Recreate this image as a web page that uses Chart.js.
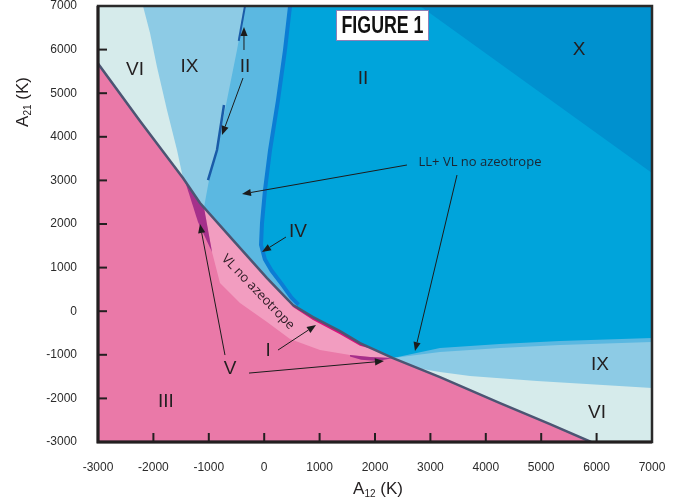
<!DOCTYPE html>
<html><head><meta charset="utf-8">
<script src="https://cdn.jsdelivr.net/npm/chart.js@4.4.0/dist/chart.umd.min.js"></script>
<style>html,body{margin:0;padding:0;background:#fff;overflow:hidden}</style>
</head><body>
<canvas id="c" width="675" height="504"></canvas>
<script>
// ---------- axis ticks ----------
const xTickValues = [-3000,-2000,-1000,0,1000,2000,3000,4000,5000,6000,7000];
const yTickValues = [-3000,-2000,-1000,0,1000,2000,3000,4000,5000,6000,7000];

// ---------- boundary curves (A12, A21 in K) ----------
const mainLine = [[-3000,5680],[-2242,4362],[-1466,3054],[-1159,2481],[-563,1632],[51,760],[420,273],[520,141],[881,-134],[1368,-456],[1729,-731],[2325,-1075],[3173,-1511],[4256,-2107],[5159,-2589],[5900,-3000]];
const ivCurve = [[430,7000],[339,5991],[213,4844],[69,3697],[-22,2779],[-76,2022],[-94,1517],[-22,1173],[105,898],[285,600],[466,279],[592,118]];
const ixLeftEdge = [[-347,7000],[-491,5991],[-672,4844],[-852,3697],[-996,3008],[-1087,2378]];
const viIxEdge = [[-2188,7000],[-2061,6381],[-1935,5601],[-1755,4614],[-1574,3697],[-1466,3054]];
const xRegionEdge = [[2812,7000],[7000,3169]];
const junctionC = [2325,-1075];
const sliverUpper = [[2325,-1075],[3173,-846],[4256,-754],[5339,-685],[7000,-616]];
const ixRightUpper = [[2325,-1075],[3173,-937],[4256,-846],[5339,-777],[7000,-708]];
const ixRightLower = [[2325,-1075],[2632,-1281],[3173,-1396],[3715,-1488],[4924,-1603],[6115,-1694],[7000,-1763]];
const vlLower = [[2325,-1075],[1910,-1052],[1549,-1006],[1007,-891],[466,-639],[51,-249],[-437,187],[-798,646],[-942,1357]];
const purpleWedge = [[-1430,2986],[-1087,2378],[-942,1357],[-1195,2045]];
const purpleTip = [[1549,-1006],[1910,-1052],[2325,-1075],[2050,-1140],[1750,-1115],[1549,-1040]];
const magentaBand = [[420,273],[520,141],[881,-134],[1368,-456],[1729,-731],[2000,-887],[1729,-795],[1368,-530],[881,-200],[520,95]];
const navyUpper = [[-347,7000],[-460,6200]];
const navyLower = [[-726,4729],[-852,3697],[-1014,3008]];

// ---------- annotations ----------
const romanText = ['VI','IX','II','II','X','IV','I','V','III','IX','VI'];
const romanX = [-2332,-1348,-347,1783,5682,610,69,-617,-1773,6061,6007];
const romanY = [5532,5612,5612,5337,5991,1816,-914,-1327,-2084,-1235,-2337];
const arrowStart = [[-365,5991],[-383,5348],[2577,3353],[3480,3123],[393,1701],[249,-891],[-708,-1006],[-274,-1419]];
const arrowTip = [[-365,6518],[-762,4041],[-401,2687],[2722,-914],[-40,1357],[935,-318],[-1159,2000],[2162,-1144]];

const toXY = arr => arr.map(p => ({x:p[0], y:p[1]}));
const rev = arr => arr.slice().reverse();

const junctionIX = [-1087,2378];
const lightPinkPoly = [junctionIX, ...mainLine.filter(p => p[0] > -1087 && p[0] < 2325), ...vlLower];
const ixLeftPoly = [[-3000,7000], ...ixLeftEdge, [-1300,2000], [-3000,3000]];
const viLeftPoly = [[-3000,7000], ...viIxEdge, [-3000,3054]];
const midLeftPoly = [[-3000,7000], ...ivCurve, [-3000,-3000]];
const pinkPoly = [...mainLine, [-3000,-3000]];
const viRightPoly = [junctionC, [7000,-1000], [7000,-3000], [2325,-3000]];
const sliverPoly = [...sliverUpper, [7000,-1000], junctionC];
const ixRightPoly = [...ixRightUpper, ...rev(ixRightLower)];
const xPoly = [xRegionEdge[0], [7000,7000], xRegionEdge[1]];
const fullPoly = [[-3000,-3000],[7000,-3000],[7000,7000],[-3000,7000]];

const COL = {
  bright:'#00A4DB', x:'#0091CF', mid:'#5BB8E1', ix:'#8DCBE5', vi:'#D6EBEB',
  pink:'#EA79A8', light:'#F29DC0', purple:'#A5308B', magenta:'#D8117B',
  navy:'#1A5BA8', ivStripe:'#0B7DD4', main:'#4C5573'
};

function poly(pts, color){
  return {data: toXY(pts), showLine:true, fill:'shape', backgroundColor:color, borderColor:color, borderWidth:0, pointRadius:0, tension:0};
}
function line(pts, color, w){
  return {data: toXY(pts), showLine:true, fill:false, borderColor:color, borderWidth:w, pointRadius:0, tension:0, borderCapStyle:'butt'};
}

const layers = [
  poly(fullPoly, COL.bright),
  poly(xPoly, COL.x),
  poly(viRightPoly, COL.vi),
  poly(sliverPoly, COL.mid),
  poly(ixRightPoly, COL.ix),
  line(ivCurve, COL.ivStripe, 8),
  poly(midLeftPoly, COL.mid),
  poly(ixLeftPoly, COL.ix),
  poly(viLeftPoly, COL.vi),
  line(navyUpper, COL.navy, 2),
  line(navyLower, COL.navy, 2.5),
  poly(pinkPoly, COL.pink),
  poly(lightPinkPoly, COL.light),
  poly(purpleWedge, COL.purple),
  poly(purpleTip, COL.purple),
  poly(magentaBand, COL.magenta),
  line(mainLine, COL.main, 2.5)
];
const datasets = layers.map((d,i) => Object.assign(d, {order: layers.length - i}));

const overlay = {
  id:'overlay',
  afterDatasetsDraw(chart){
    const {ctx, chartArea:a} = chart;
    const sx = chart.scales.x, sy = chart.scales.y;
    const X = v => sx.getPixelForValue(v), Y = v => sy.getPixelForValue(v);
    ctx.save();
    // arrows
    ctx.strokeStyle = '#1C1C1C'; ctx.fillStyle = '#1C1C1C'; ctx.lineWidth = 1;
    arrowStart.forEach((s,i) => {
      const t = arrowTip[i];
      const x0 = X(s[0]), y0 = Y(s[1]), x1 = X(t[0]), y1 = Y(t[1]);
      const ang = Math.atan2(y1-y0, x1-x0), hl = 9, hw = 3.6;
      const bx = x1 - hl*Math.cos(ang), by = y1 - hl*Math.sin(ang);
      ctx.beginPath(); ctx.moveTo(x0,y0); ctx.lineTo(bx,by); ctx.stroke();
      ctx.beginPath(); ctx.moveTo(x1,y1);
      ctx.lineTo(bx - hw*Math.sin(ang), by + hw*Math.cos(ang));
      ctx.lineTo(bx + hw*Math.sin(ang), by - hw*Math.cos(ang));
      ctx.closePath(); ctx.fill();
    });
    // roman labels
    ctx.fillStyle = '#231F20';
    ctx.font = '19px "Liberation Sans", Arial, sans-serif';
    ctx.textAlign = 'center'; ctx.textBaseline = 'middle';
    romanText.forEach((t,i) => ctx.fillText(t, X(romanX[i]), Y(romanY[i])));
    // notes
    ctx.font = '13px "Open Sans", sans-serif';
    ctx.fillStyle = '#1B2633';
    ctx.fillText('LL+ VL no azeotrope', X(3895), Y(3421));
    ctx.save();
    ctx.translate(X(-112), Y(439)); ctx.rotate(46*Math.PI/180);
    ctx.fillStyle = '#2A1A22';
    ctx.fillText('VL no azeotrope', 0, 0);
    ctx.restore();
    ctx.restore();
  },
  afterDraw(chart){
    const {ctx, chartArea:a} = chart;
    const sx = chart.scales.x, sy = chart.scales.y;
    ctx.save();
    // frame
    ctx.strokeStyle = '#2A2A2A'; ctx.lineWidth = 2.5;
    ctx.strokeRect(a.left, a.top, a.right-a.left, a.bottom-a.top);
    ctx.strokeStyle = '#231F20'; ctx.lineWidth = 3;
    ctx.beginPath(); ctx.moveTo(a.left, a.top); ctx.lineTo(a.left, a.bottom); ctx.lineTo(a.right, a.bottom); ctx.stroke();
    // inner tick marks
    ctx.lineWidth = 2;
    xTickValues.slice(1,-1).forEach(v => { const p = sx.getPixelForValue(v); ctx.beginPath(); ctx.moveTo(p, a.bottom); ctx.lineTo(p, a.bottom-9); ctx.stroke(); });
    yTickValues.slice(1,-1).forEach(v => { const p = sy.getPixelForValue(v); ctx.beginPath(); ctx.moveTo(a.left, p); ctx.lineTo(a.left+9, p); ctx.stroke(); });
    // axis titles with subscripts
    function title(main, sub, rest, cx, cy, rot){
      ctx.save(); ctx.translate(cx, cy); ctx.rotate(rot);
      ctx.fillStyle = '#231F20'; ctx.textBaseline = 'alphabetic'; ctx.textAlign = 'left';
      const fBig = '17px "Liberation Sans", Arial, sans-serif', fSub = '10px "Liberation Sans", Arial, sans-serif';
      ctx.font = fBig; const w1 = ctx.measureText(main).width, w3 = ctx.measureText(rest).width;
      ctx.font = fSub; const w2 = ctx.measureText(sub).width;
      let x = -(w1+w2+w3)/2; const base = 6;
      ctx.font = fBig; ctx.fillText(main, x, base); x += w1;
      ctx.font = fSub; ctx.fillText(sub, x, base+3); x += w2;
      ctx.font = fBig; ctx.fillText(rest, x, base);
      ctx.restore();
    }
    title('A','21',' (K)', 22, 102, -Math.PI/2);
    title('A','12',' (K)', 378, 488, 0);
    // FIGURE 1 box
    ctx.fillStyle = '#FFFFFF'; ctx.fillRect(336, 10, 93, 31);
    ctx.strokeStyle = '#8C80B8'; ctx.lineWidth = 1; ctx.strokeRect(336.5, 10.5, 92, 30);
    ctx.font = 'bold 23px "Liberation Sans Narrow", "Liberation Sans", Arial, sans-serif';
    const txt = 'FIGURE 1'; const tw = ctx.measureText(txt).width; const target = 82;
    ctx.save(); ctx.translate(382.5, 26); const k = Math.min(1, target/tw); ctx.scale(k, 1);
    ctx.fillStyle = '#111'; ctx.textAlign = 'center'; ctx.textBaseline = 'middle';
    ctx.fillText(txt, 0, 1);
    ctx.restore();
    ctx.restore();
  }
};

new Chart(document.getElementById('c'), {
  type:'scatter',
  data:{datasets},
  options:{
    responsive:false, animation:false, events:[],
    layout:{padding:{left:0, right:23, top:6, bottom:0}},
    plugins:{legend:{display:false}, tooltip:{enabled:false}},
    scales:{
      x:{type:'linear', min:-3000, max:7000,
         afterBuildTicks: s => { s.ticks = xTickValues.map(v => ({value:v})); },
         afterFit: s => { s.height = 62; s.paddingLeft = 0; s.paddingRight = 0; },
         grid:{display:false, drawTicks:false}, border:{display:false},
         ticks:{padding:18, color:'#2B2B2B', maxRotation:0, autoSkip:false, font:{family:'"Liberation Sans", Arial', size:12}, callback: v => String(v)}},
      y:{type:'linear', min:-3000, max:7000,
         afterBuildTicks: s => { s.ticks = yTickValues.map(v => ({value:v})); },
         afterFit: s => { s.width = 98; s.paddingTop = 0; s.paddingBottom = 0; },
         grid:{display:false, drawTicks:false}, border:{display:false},
         ticks:{padding:21, color:'#2B2B2B', autoSkip:false, font:{family:'"Liberation Sans", Arial', size:12}, callback: v => String(v)}}
    }
  },
  plugins:[overlay]
});
</script>
</body></html>
